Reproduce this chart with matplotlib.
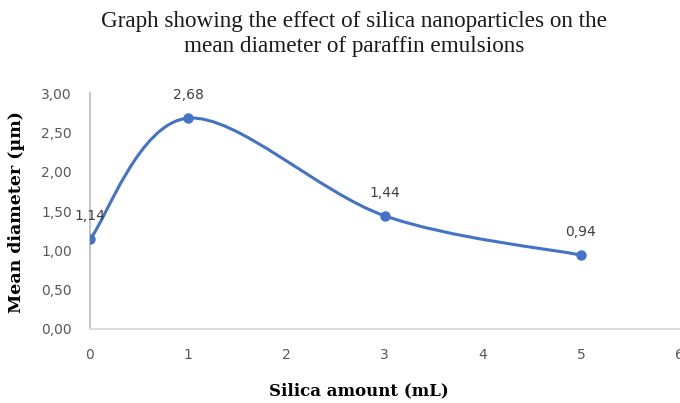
import matplotlib
matplotlib.use("Agg")
import matplotlib.pyplot as plt
from matplotlib.path import Path
from matplotlib.patches import PathPatch
import numpy as np

silica_ml = [0, 1, 3, 5]
mean_diameter = [1.14, 2.68, 1.44, 0.94]
labels = ["1,14", "2,68", "1,44", "0,94"]
x_ticks = [0, 1, 2, 3, 4, 5, 6]
y_ticks = [0.0, 0.5, 1.0, 1.5, 2.0, 2.5, 3.0]
y_ticklabels = ["0,00", "0,50", "1,00", "1,50", "2,00", "2,50", "3,00"]

blue = "#4472C4"
W, H = 680, 403
fig = plt.figure(figsize=(W / 100, H / 100), dpi=100)
ax = fig.add_axes([90 / W, 1 - 329 / H, 589 / W, (329 - 93) / H])

# Excel-like smoothed line (Catmull-Rom via cubic Bezier)
pts = np.column_stack([silica_ml, mean_diameter]).astype(float)
n = len(pts)
verts = [pts[0]]
codes = [Path.MOVETO]
for i in range(n - 1):
    p0 = pts[i - 1] if i > 0 else pts[i]
    p1 = pts[i]
    p2 = pts[i + 1]
    p3 = pts[i + 2] if i + 2 < n else pts[i + 1]
    c1 = p1 + (p2 - p0) / 6.0
    c2 = p2 - (p3 - p1) / 6.0
    verts += [c1, c2, p2]
    codes += [Path.CURVE4] * 3
ax.add_patch(PathPatch(Path(verts, codes), facecolor="none", edgecolor=blue,
                       lw=2.2, capstyle="round", zorder=3))
ax.plot(silica_ml, mean_diameter, "o", color=blue, ms=6.5, zorder=4)

lab_font = dict(family="DejaVu Sans", size=10, color="#404040")
for xv, yv, t in zip(silica_ml, mean_diameter, labels):
    ax.annotate(t, (xv, yv), xytext=(0, 11.5), textcoords="offset points",
                ha="center", va="bottom", **lab_font)

ax.set_xlim(0, 6)
ax.set_ylim(0, 3)
ax.set_xticks(x_ticks)
ax.set_xticklabels([str(v) for v in x_ticks], fontfamily="DejaVu Sans", fontsize=10, color="#595959")
ax.set_yticks(y_ticks)
ax.set_yticklabels(y_ticklabels, fontfamily="DejaVu Sans", fontsize=10, color="#595959")
ax.tick_params(length=0)
ax.tick_params(axis="y", pad=13)
ax.tick_params(axis="x", pad=14)
for s in ["top", "right"]:
    ax.spines[s].set_visible(False)
ax.spines["left"].set_color("#BFBFBF")
ax.spines["bottom"].set_color("#D9D9D9")
ax.spines["left"].set_linewidth(1.3)
ax.spines["bottom"].set_linewidth(1.3)

fig.text(354 / W, 1 - 34 / H,
         "Graph showing the effect of silica nanoparticles on the\nmean diameter of paraffin emulsions",
         ha="center", va="center", fontsize=16.7, family="Liberation Serif", color="#1a1a1a",
         linespacing=1.3)
fig.text(359 / W, 1 - 391 / H, "Silica amount (mL)", ha="center", va="center",
         fontsize=12, fontweight="bold", family="DejaVu Serif", color="#000000")
fig.text(17 / W, 1 - 212 / H, "Mean diameter (µm)", ha="center", va="center", rotation=90,
         fontsize=12.5, fontweight="bold", family="DejaVu Serif", color="#000000")

fig.savefig("out.png", dpi=100)
